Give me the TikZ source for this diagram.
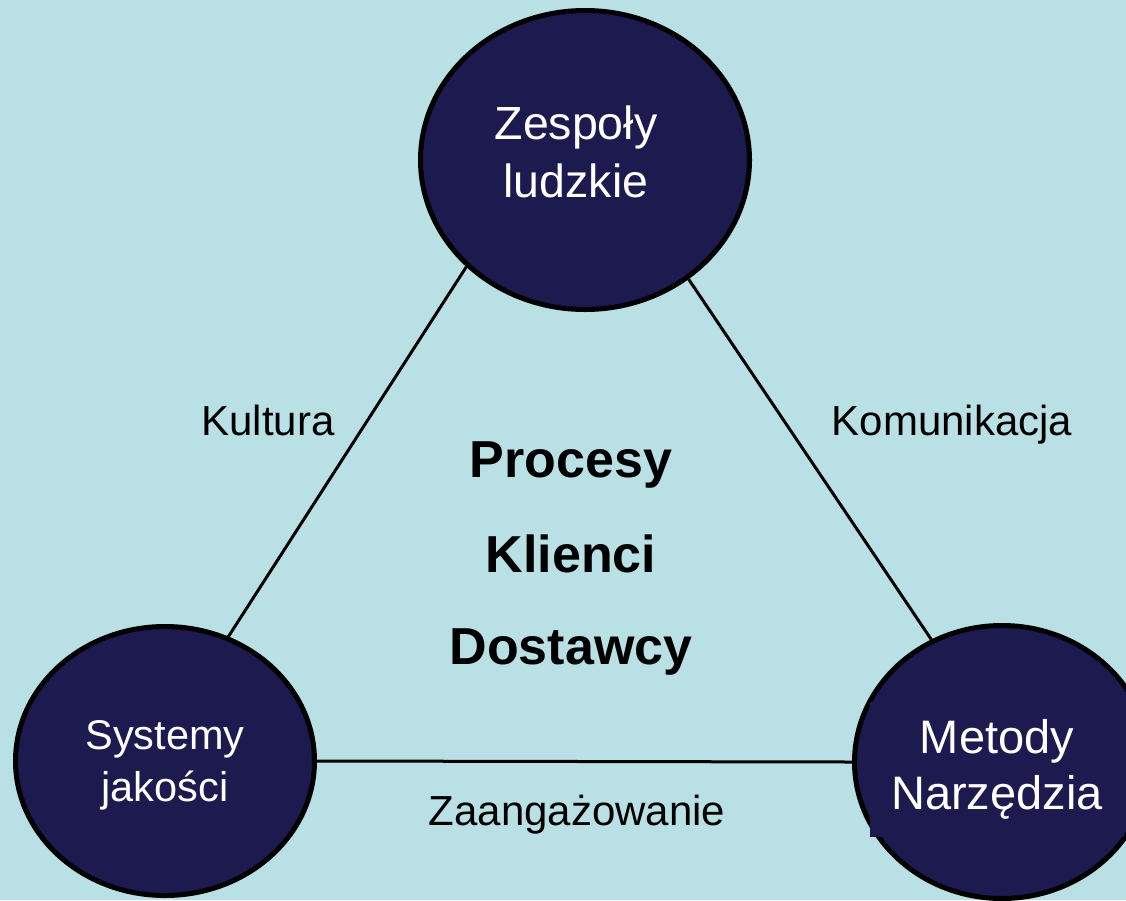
\documentclass[tikz,border=0pt]{standalone}
\usepackage{fontspec}
\setmainfont{Liberation Sans}
\usetikzlibrary{shapes.geometric}

\definecolor{bgBlue}{RGB}{185,224,228}
\definecolor{ringNavy}{RGB}{28,26,78}

\tikzset{
  ring/.style={ellipse, draw=black, line width=5pt, fill=ringNavy, inner sep=0pt},
  ringText/.style={text=white, align=center, inner sep=0pt},
  coreText/.style={anchor=base, font=\fontsize{52}{62}\selectfont\bfseries},
  edgeLabel/.style={anchor=base, font=\fontsize{42}{50}\selectfont},
  link/.style={line width=3pt}
}

\begin{document}
\begin{tikzpicture}[x=1pt, y=-1pt]

  % canvas
  \useasboundingbox (0,0) rectangle (1126,900);
  \clip (0,0) rectangle (1126,900);
  \fill[bgBlue] (0,0) rectangle (1126,900);

  % the three rings
  \node[ring, minimum width=329pt, minimum height=299pt] (zl) at (585,160) {};
  \node[ring, minimum width=299pt, minimum height=269pt] (sj) at (165,761) {};
  \node[ring, minimum width=295pt, minimum height=273pt] (mn) at (1002,762) {};

  % links between the rings
  \draw[link] (zl.222.2) -- (sj.63.3);
  \draw[link] (zl.311.2) -- (mn.120.1);
  \draw[link] (sj.0) -- (mn.180);

  % ring texts
  \node[ringText, font=\fontsize{46.5}{58}\selectfont] (zl-txt) at (576,152.3)
    {Zespoły\\ludzkie};
  \node[ringText, font=\fontsize{41.5}{52}\selectfont] (sj-txt) at (165,765.2)
    {Systemy\\jakości};
  \node[ringText, font=\fontsize{47}{56}\selectfont, fill=ringNavy,
    minimum width=254pt, minimum height=135pt] (mn-txt) at (997,769)
    {Metody\\Narzędzia};

  % link labels
  \node[edgeLabel] (kult) at (268,435) {Kultura};
  \node[edgeLabel] (komu) at (952,435) {Komunikacja};
  \node[edgeLabel] (zaan) at (577,825) {Zaangażowanie};

  % core of the triangle
  \node[coreText] (proc) at (571,477) {Procesy};
  \node[coreText] (klie) at (571,572) {Klienci};
  \node[coreText] (dost) at (571,664) {Dostawcy};

\end{tikzpicture}
\end{document}
